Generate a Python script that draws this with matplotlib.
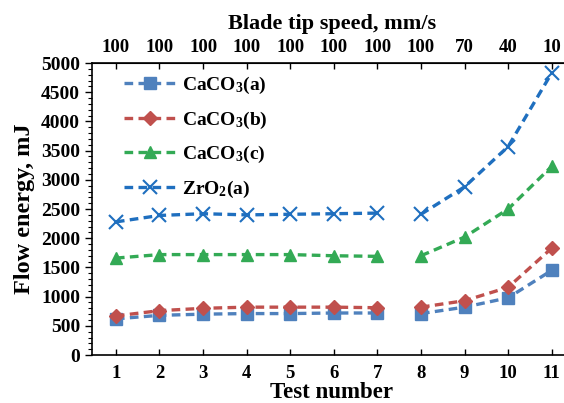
import matplotlib
matplotlib.use("Agg")
import matplotlib.pyplot as plt
from matplotlib.ticker import MultipleLocator

plt.rcParams['font.family'] = ['Liberation Serif']
plt.rcParams['font.weight'] = 'bold'
plt.rcParams['mathtext.fontset'] = 'custom'
plt.rcParams['mathtext.rm'] = 'Liberation Serif:bold'
plt.rcParams['mathtext.bf'] = 'Liberation Serif:bold'
plt.rcParams['mathtext.it'] = 'Liberation Serif:bold'

tests = [1, 2, 3, 4, 5, 6, 7, 8, 9, 10, 11]
speeds = ['100', '100', '100', '100', '100', '100', '100', '100', '70', '40', '10']
caco3_a = [620, 680, 700, 710, 710, 720, 720, 710, 820, 980, 1450]
caco3_b = [670, 760, 800, 820, 820, 820, 810, 820, 930, 1160, 1830]
caco3_c = [1660, 1720, 1720, 1720, 1720, 1700, 1690, 1700, 2020, 2500, 3230]
zro2_a = [2280, 2390, 2420, 2400, 2410, 2420, 2430, 2410, 2880, 3570, 4830]

series = [
    (caco3_a, r'CaCO$_3$(a)', '#4F81BD', 's', 9),
    (caco3_b, r'CaCO$_3$(b)', '#C0504D', 'D', 7.5),
    (caco3_c, r'CaCO$_3$(c)', '#33AA55', '^', 9),
    (zro2_a, r'ZrO$_2$(a)', '#1F6FBF', 'x', 10),
]

fig = plt.figure(figsize=(5.64, 4.03), dpi=100)
ax = fig.add_axes([0.163, 0.119, 0.850, 0.7246])

for vals, label, color, marker, ms in series:
    kw = dict(color=color, marker=marker, markersize=ms, linestyle='--', linewidth=2.4,
              dashes=(2.6, 1.6))
    if marker == 'x':
        kw['markeredgewidth'] = 1.5
    ax.plot(tests[:7], vals[:7], label=label, **kw)
    ax.plot(tests[7:], vals[7:], **kw)

ax.set_xlim(0.45, 11.45)
ax.set_ylim(0, 5000)
ax.set_xticks(tests)
ax.yaxis.set_major_locator(MultipleLocator(500))
ax.yaxis.set_minor_locator(MultipleLocator(100))
ax.tick_params(axis='y', which='major', direction='out', length=5, width=1, labelsize=14)
ax.tick_params(axis='y', which='minor', direction='out', length=3, width=0.8)
ax.tick_params(axis='x', direction='in', length=4, width=1, labelsize=13.5, pad=7)
ax.set_xlabel('Test number', fontsize=16.5, fontweight='bold', labelpad=0)
ax.set_ylabel('Flow energy, mJ', fontsize=17.5, fontweight='bold', labelpad=4)

for s in ['left', 'bottom', 'top', 'right']:
    ax.spines[s].set_linewidth(1.2)

top = ax.secondary_xaxis('top')
top.set_xticks(tests)
top.set_xticklabels(speeds)
top.tick_params(direction='in', length=4, width=1, labelsize=13.5, pad=5)
top.set_xlabel('Blade tip speed, mm/s', fontsize=16, fontweight='bold', labelpad=7)

leg = ax.legend(loc='upper left', bbox_to_anchor=(0.03, 1.02), frameon=False,
                fontsize=14, handlelength=2.7, labelspacing=0.7, handletextpad=0.3)

fig.savefig('out.png', dpi=100)
